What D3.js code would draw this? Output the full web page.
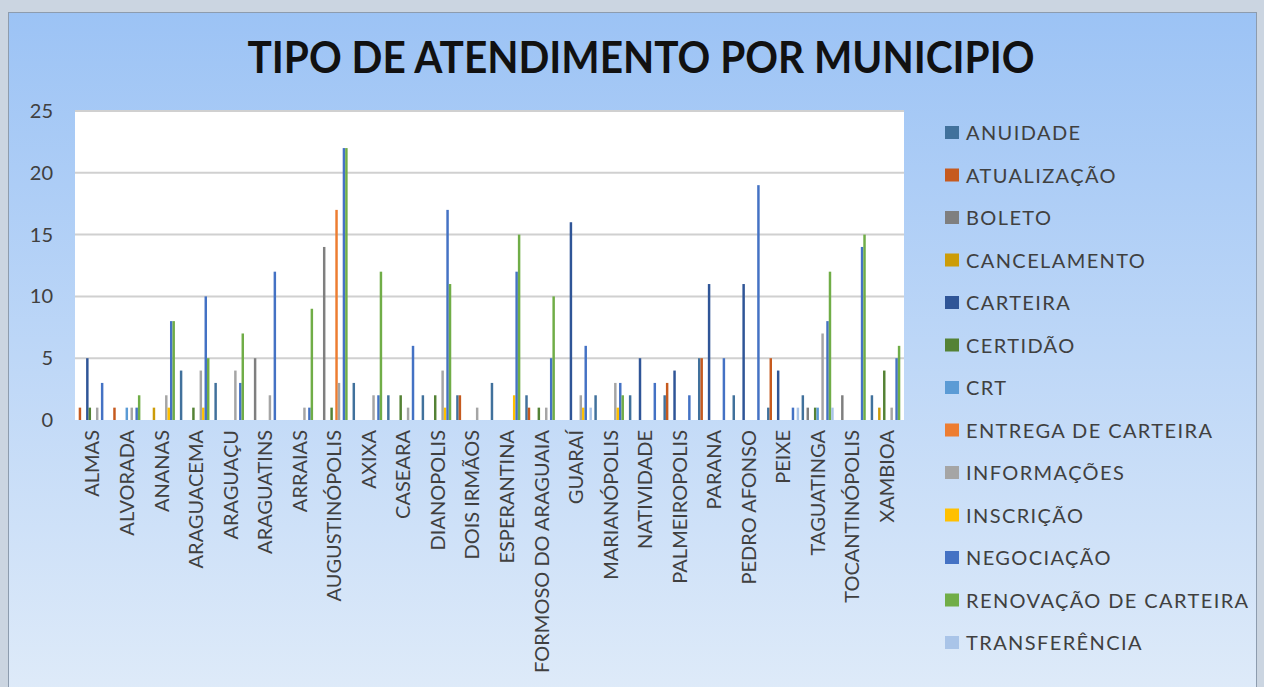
<!DOCTYPE html>
<html>
<head>
<meta charset="utf-8">
<script src="https://cdn.jsdelivr.net/npm/d3@7"></script>
<style>
  body { margin: 0; background: #cbd5e1; }
  text { font-family: Lato, "Open Sans", sans-serif; }
</style>
</head>
<body>
<div id="chart"></div>
<script>
var svgWidth = 1264;
var svgHeight = 687;

// categories (municipios)
var municipios = ["ALMAS", "ALVORADA", "ANANAS", "ARAGUACEMA", "ARAGUAÇU", "ARAGUATINS", "ARRAIAS",
  "AUGUSTINÓPOLIS", "AXIXA", "CASEARA", "DIANOPOLIS", "DOIS IRMÃOS", "ESPERANTINA",
  "FORMOSO DO ARAGUAIA", "GUARAÍ", "MARIANÓPOLIS", "NATIVIDADE", "PALMEIROPOLIS", "PARANA",
  "PEDRO AFONSO", "PEIXE", "TAGUATINGA", "TOCANTINÓPOLIS", "XAMBIOA"];

var tipos = ["ANUIDADE", "ATUALIZAÇÃO", "BOLETO", "CANCELAMENTO", "CARTEIRA", "CERTIDÃO", "CRT",
  "ENTREGA DE CARTEIRA", "INFORMAÇÕES", "INSCRIÇÃO", "NEGOCIAÇÃO", "RENOVAÇÃO DE CARTEIRA", "TRANSFERÊNCIA"];

// one array per series, same order as municipios
var anuidade     = [0, 0, 0, 4, 3, 0, 0, 0, 3, 2, 2, 2, 3, 2, 0, 2, 2, 2, 5, 2, 1, 2, 0, 2];
var atualizacao  = [1, 1, 0, 0, 0, 0, 0, 0, 0, 0, 0, 2, 0, 1, 0, 0, 0, 3, 5, 0, 5, 0, 0, 0];
var boleto       = [0, 0, 0, 0, 0, 5, 0, 14, 0, 0, 0, 0, 0, 0, 0, 0, 0, 0, 0, 0, 0, 1, 2, 0];
var cancelamento = [0, 0, 1, 0, 0, 0, 0, 0, 0, 0, 0, 0, 0, 0, 0, 0, 0, 0, 0, 0, 0, 0, 0, 1];
var carteira     = [5, 0, 0, 0, 0, 0, 0, 0, 0, 0, 0, 0, 0, 0, 16, 0, 5, 4, 11, 11, 4, 0, 0, 0];
var certidao     = [1, 0, 0, 1, 0, 0, 0, 1, 0, 2, 2, 0, 0, 1, 0, 0, 0, 0, 0, 0, 0, 1, 0, 4];
var crt          = [0, 1, 0, 0, 0, 0, 0, 0, 0, 0, 0, 0, 0, 0, 0, 0, 0, 0, 0, 0, 0, 1, 0, 0];
var entrega      = [0, 0, 0, 0, 0, 0, 0, 17, 0, 0, 0, 0, 0, 0, 0, 0, 0, 0, 0, 0, 0, 0, 0, 0];
var informacoes  = [1, 1, 2, 4, 4, 2, 1, 3, 2, 1, 4, 1, 0, 1, 2, 3, 0, 0, 0, 0, 0, 7, 0, 1];
var inscricao    = [0, 0, 1, 1, 0, 0, 0, 0, 0, 0, 1, 0, 2, 0, 1, 1, 0, 0, 0, 0, 0, 0, 0, 0];
var negociacao   = [3, 1, 8, 10, 3, 12, 1, 22, 2, 6, 17, 0, 12, 5, 6, 3, 3, 2, 5, 19, 1, 8, 14, 5];
var renovacao    = [0, 2, 8, 5, 7, 0, 9, 22, 12, 0, 11, 0, 15, 10, 0, 2, 0, 0, 0, 0, 0, 12, 15, 6];
var transferencia = [0, 0, 0, 0, 0, 0, 0, 0, 0, 0, 0, 0, 0, 0, 1, 0, 0, 0, 0, 0, 1, 1, 0, 0];

var yTicks = [0, 5, 10, 15, 20, 25];

var seriesValues = [anuidade, atualizacao, boleto, cancelamento, carteira, certidao, crt,
  entrega, informacoes, inscricao, negociacao, renovacao, transferencia];
var colors = ["#41719c", "#c65a1e", "#7f7f7f", "#cc9c08", "#2f5597", "#548235", "#5b9bd5",
  "#ed7d31", "#a5a5a5", "#ffc000", "#4472c4", "#70ad47", "#a9c4e8"];

var plot = { left: 75, right: 904, top: 111, bottom: 420 };

var svg = d3.select("#chart")
  .append("svg")
  .attr("width", svgWidth)
  .attr("height", svgHeight);

// background frame with the light blue gradient
var grad = svg.append("defs").append("linearGradient")
  .attr("id", "bg")
  .attr("gradientUnits", "userSpaceOnUse")
  .attr("x1", 0).attr("y1", 12).attr("x2", 0).attr("y2", 700);
grad.append("stop").attr("offset", "0%").attr("stop-color", "#9cc3f5");
grad.append("stop").attr("offset", "100%").attr("stop-color", "#dfebf9");

svg.append("rect")
  .attr("x", 8.5).attr("y", 12.5)
  .attr("width", 1248).attr("height", 700)
  .attr("fill", "url(#bg)")
  .attr("stroke", "#8d9cae")
  .attr("stroke-width", 1);

// title
svg.append("text")
  .attr("x", 641)
  .attr("y", 73)
  .attr("text-anchor", "middle")
  .attr("font-size", 43)
  .attr("font-weight", "bold")
  .attr("fill", "#111")
  .attr("textLength", 787)
  .attr("lengthAdjust", "spacingAndGlyphs")
  .text("TIPO DE ATENDIMENTO POR MUNICIPIO");

// plot area
svg.append("rect")
  .attr("x", plot.left).attr("y", plot.top)
  .attr("width", plot.right - plot.left).attr("height", plot.bottom - plot.top)
  .attr("fill", "#fff");

// scales
var x0 = d3.scaleBand()
  .domain(municipios)
  .range([plot.left, plot.right]);

var x1 = d3.scaleBand()
  .domain(tipos)
  .range([0, x0.bandwidth()])
  .paddingOuter(0.5);

var y = d3.scaleLinear()
  .domain([0, 25])
  .range([plot.bottom, plot.top]);

// gridlines
svg.append("g")
  .selectAll("line")
  .data(yTicks.slice(1))
  .enter()
  .append("line")
  .attr("x1", plot.left).attr("x2", plot.right)
  .attr("y1", d => y(d)).attr("y2", d => y(d))
  .attr("stroke", "#d0d0d0")
  .attr("stroke-width", 2);

// y axis labels
var leftAxis = d3.axisLeft(y).tickValues(yTicks).tickSize(0).tickPadding(0);
var yAxis = svg.append("g")
  .attr("transform", "translate(53,0)")
  .call(leftAxis);
yAxis.select(".domain").remove();
yAxis.selectAll("text")
  .attr("font-size", 20)
  .attr("font-family", "Lato, sans-serif")
  .attr("fill", "#404040");

// bars
var groups = svg.append("g")
  .selectAll("g")
  .data(municipios)
  .enter()
  .append("g")
  .attr("transform", d => `translate(${x0(d)},0)`);

groups.selectAll("rect")
  .data((d, i) => tipos.map((t, s) => ({ tipo: t, value: seriesValues[s][i], color: colors[s] })))
  .enter()
  .append("rect")
  .filter(d => d.value > 0)
  .attr("x", d => x1(d.tipo))
  .attr("y", d => y(d.value))
  .attr("width", x1.bandwidth())
  .attr("height", d => y(0) - y(d.value))
  .attr("fill", d => d.color);

// x axis labels (rotated)
var bottomAxis = d3.axisBottom(x0).tickSize(0).tickPadding(0);
var xAxis = svg.append("g")
  .attr("transform", `translate(0, ${plot.bottom})`)
  .call(bottomAxis);
xAxis.select(".domain").remove();
xAxis.selectAll("text")
  .attr("font-size", 20)
  .attr("font-family", "Lato, sans-serif")
  .attr("fill", "#404040")
  .attr("transform", "rotate(-90)")
  .attr("text-anchor", "end")
  .attr("x", -10)
  .attr("y", 0)
  .attr("dy", "0.36em");

// legend
var legend = svg.append("g")
  .selectAll("g")
  .data(tipos)
  .enter()
  .append("g")
  .attr("transform", (d, i) => `translate(945, ${133 + i * 42.5})`);

legend.append("rect")
  .attr("x", 0).attr("y", -7)
  .attr("width", 14).attr("height", 13)
  .attr("fill", (d, i) => colors[i]);

legend.append("text")
  .attr("x", 21)
  .attr("y", 0)
  .attr("dy", "0.36em")
  .attr("font-size", 20)
  .attr("letter-spacing", 1.4)
  .attr("fill", "#404040")
  .text(d => d);
</script>
</body>
</html>
